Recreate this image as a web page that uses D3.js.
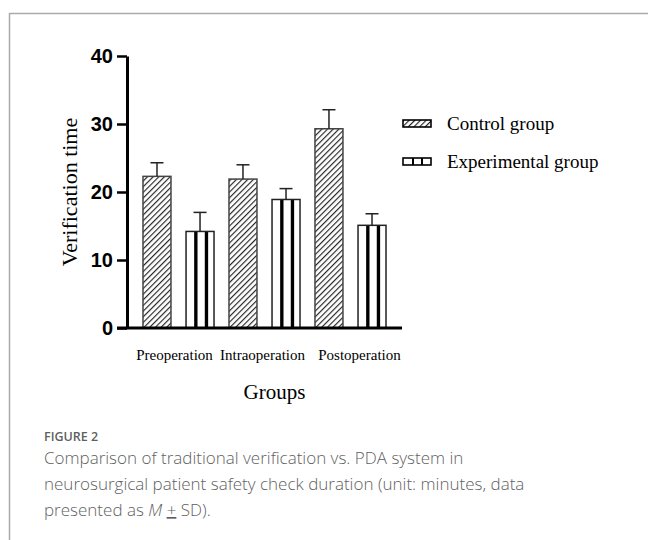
<!DOCTYPE html>
<html>
<head>
<meta charset="utf-8">
<script src="https://cdn.jsdelivr.net/npm/d3@7"></script>
<style>
  html, body { margin: 0; padding: 0; background: #fff; }
  svg text { fill: #000; }
  .caption { font-family: "Open Sans", Lato, sans-serif; fill: #5f5f5f; }
</style>
</head>
<body>
<div id="chart"></div>
<script>
// chart data
const categories = ["Preoperation", "Intraoperation", "Postoperation"];
const groups = ["Control group", "Experimental group"];
const controlMean = [22.3, 21.9, 29.3];
const controlSD = [2.0, 2.1, 2.8];
const experimentalMean = [14.2, 18.9, 15.1];
const experimentalSD = [2.8, 1.6, 1.7];
const yTicks = [0, 10, 20, 30, 40];

// long format rows for the bars
const rows = [];
categories.forEach((c, i) => {
  rows.push({cat: c, group: groups[0], mean: controlMean[i], sd: controlSD[i]});
  rows.push({cat: c, group: groups[1], mean: experimentalMean[i], sd: experimentalSD[i]});
});

// dimensions
const W = 648, H = 540;
const margin = {top: 56, left: 127};
const width = 275;
const height = 272;

const root = d3.select("#chart")
  .append("svg")
    .attr("width", W)
    .attr("height", H);

// page frame (left + top rule)
root.append("path")
  .attr("d", `M9.5,${H} V13.5 H${W}`)
  .attr("fill", "none")
  .attr("stroke", "#aaa")
  .attr("stroke-width", 1.5);

// patterns
const defs = root.append("defs");
defs.append("pattern")
    .attr("id", "hatch")
    .attr("patternUnits", "userSpaceOnUse")
    .attr("width", 4)
    .attr("height", 4)
    .attr("patternTransform", "rotate(45)")
  .append("line")
    .attr("x1", 0.6).attr("y1", 0)
    .attr("x2", 0.6).attr("y2", 4)
    .attr("stroke", "#1a1a1a")
    .attr("stroke-width", 1.1);

const svg = root.append("g")
  .attr("transform", `translate(${margin.left}, ${margin.top})`);

// scales
const x0 = d3.scaleBand()
  .domain(categories)
  .range([0, width])
  .paddingInner(0.174)
  .paddingOuter(0.186);

const x1 = d3.scaleBand()
  .domain(groups)
  .range([0, x0.bandwidth()])
  .paddingInner(0.35)
  .paddingOuter(0);

const y = d3.scaleLinear()
  .domain([0, 40])
  .range([height, 0]);

// bars
const bar = svg.append("g")
  .selectAll("g")
  .data(rows)
  .join("g")
    .attr("transform", d => `translate(${x0(d.cat) + x1(d.group)},0)`);

bar.append("rect")
  .attr("x", 0)
  .attr("y", d => y(d.mean))
  .attr("width", x1.bandwidth())
  .attr("height", d => height - y(d.mean))
  .attr("fill", d => d.group === groups[0] ? "url(#hatch)" : "#fff");

// vertical black stripes for experimental bars
bar.filter(d => d.group === groups[1])
  .selectAll(".stripe")
  .data(d => [0.29, 0.67].map(f => ({f: f, mean: d.mean})))
  .join("rect")
    .attr("class", "stripe")
    .attr("x", d => x1.bandwidth() * d.f)
    .attr("y", d => y(d.mean))
    .attr("width", x1.bandwidth() * 0.12)
    .attr("height", d => height - y(d.mean))
    .attr("fill", "#000");

// bar outlines
bar.append("rect")
  .attr("x", 0)
  .attr("y", d => y(d.mean))
  .attr("width", x1.bandwidth())
  .attr("height", d => height - y(d.mean))
  .attr("fill", "none")
  .attr("stroke", d => d.group === groups[0] ? "#444" : "#222")
  .attr("stroke-width", 1.5);

// error bars (upper only)
const bw = x1.bandwidth();
bar.append("line")
  .attr("x1", bw / 2).attr("x2", bw / 2)
  .attr("y1", d => y(d.mean))
  .attr("y2", d => y(d.mean + d.sd))
  .attr("stroke", "#222")
  .attr("stroke-width", 1.5);
bar.append("line")
  .attr("x1", bw / 2 - 6.5).attr("x2", bw / 2 + 6.5)
  .attr("y1", d => y(d.mean + d.sd))
  .attr("y2", d => y(d.mean + d.sd))
  .attr("stroke", "#222")
  .attr("stroke-width", 1.5);

// Y axis
const yAxis = svg.append("g")
  .call(d3.axisLeft(y).tickValues(yTicks).tickSize(10).tickSizeOuter(0).tickPadding(4));
yAxis.select(".domain").attr("stroke", "#000").attr("stroke-width", 3);
yAxis.selectAll(".tick line").attr("stroke", "#000").attr("stroke-width", 2.5);
yAxis.selectAll(".tick text")
  .attr("font-family", "'Liberation Sans', Arial, sans-serif")
  .attr("font-weight", "bold")
  .attr("font-size", 20)
  .attr("fill", "#000");

// X axis
const labelNudge = [-4, -2, 9];
const xAxis = svg.append("g")
  .attr("transform", `translate(0,${height})`)
  .call(d3.axisBottom(x0).tickSize(0).tickPadding(21));
xAxis.select(".domain").remove();
xAxis.append("line")
  .attr("x1", -10).attr("x2", width)
  .attr("stroke", "#000")
  .attr("stroke-width", 3);
xAxis.selectAll(".tick text")
  .attr("font-family", "'Liberation Serif', 'Times New Roman', serif")
  .attr("font-size", 15)
  .attr("fill", "#000")
  .attr("dx", (d, i) => labelNudge[i]);

// axis titles
svg.append("text")
  .attr("transform", `translate(${-50},${height / 2}) rotate(-90)`)
  .attr("text-anchor", "middle")
  .attr("font-family", "'Liberation Serif', 'Times New Roman', serif")
  .attr("font-size", 22)
  .text("Verification time");

svg.append("text")
  .attr("x", width / 2 + 10)
  .attr("y", height + 71)
  .attr("text-anchor", "middle")
  .attr("font-family", "'Liberation Serif', 'Times New Roman', serif")
  .attr("font-size", 21)
  .text("Groups");

// legend
const legend = root.append("g")
  .attr("transform", "translate(403,120)")
  .selectAll("g")
  .data(groups)
  .join("g")
    .attr("transform", (d, i) => `translate(0,${i * 38})`);

legend.append("rect")
  .attr("width", 28).attr("height", 7)
  .attr("fill", (d, i) => i === 0 ? "url(#hatch)" : "#fff");
legend.filter((d, i) => i === 1)
  .selectAll(".lstripe")
  .data([9, 18])
  .join("rect")
    .attr("x", d => d)
    .attr("width", 2)
    .attr("height", 7)
    .attr("fill", "#000");
legend.append("rect")
  .attr("width", 28).attr("height", 7)
  .attr("fill", "none")
  .attr("stroke", "#000")
  .attr("stroke-width", 1.6);
legend.append("text")
  .attr("x", 44)
  .attr("y", 10)
  .attr("font-family", "'Liberation Serif', 'Times New Roman', serif")
  .attr("font-size", 19)
  .text(d => d);

// caption
root.append("text")
  .attr("class", "caption")
  .attr("x", 44).attr("y", 441)
  .attr("font-size", 12.5)
  .attr("font-weight", 600)
  .text("FIGURE 2");

const caption = root.append("text")
  .attr("class", "caption")
  .attr("font-size", 17)
  .attr("font-weight", 300);
caption.append("tspan").attr("x", 44).attr("y", 464)
  .text("Comparison of traditional verification vs. PDA system in");
caption.append("tspan").attr("x", 44).attr("y", 490)
  .text("neurosurgical patient safety check duration (unit: minutes, data");
const l3 = caption.append("tspan").attr("x", 44).attr("y", 516);
l3.append("tspan").text("presented as ");
l3.append("tspan").attr("font-style", "italic").text("M");
l3.append("tspan").text(" ");
l3.append("tspan").attr("text-decoration", "underline").text("+");
l3.append("tspan").text(" SD).");
</script>
</body>
</html>
